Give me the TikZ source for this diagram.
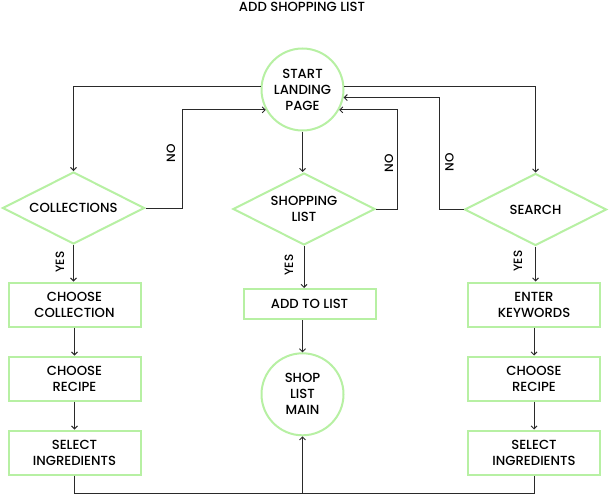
\documentclass[tikz,border=0pt]{standalone}
\usepackage{fontspec}
\setmainfont{Poppins}[UprightFont={* Medium}]
\usetikzlibrary{shapes.geometric,arrows.meta,calc}
\definecolor{lgreen}{HTML}{B7F0A3}
\definecolor{lineC}{HTML}{2A2A2A}
\begin{document}
\begin{tikzpicture}[x=1pt,y=-1pt,
  every node/.style={font=\fontsize{13.2}{16}\selectfont, align=center, inner sep=0pt, text=black},
  box/.style={draw=lgreen, line width=2pt, fill=white, minimum width=132pt, minimum height=44pt},
  smallbox/.style={box, minimum height=30pt},
  circ/.style={circle, draw=lgreen, line width=2pt, fill=white, minimum size=82pt},
  dia/.style={diamond, shape aspect=2, draw=lgreen, line width=2pt, fill=white, minimum width=142pt, minimum height=72pt},
  conn/.style={draw=lineC, line width=0.9pt},
  arr/.style={conn, -{Straight Barb[length=3pt,width=6pt]}},
  lbl/.style={rotate=90, font=\fontsize{12}{13}\selectfont}
]
\useasboundingbox (0,0) rectangle (609,495);

\node (title) at (302,7) {ADD SHOPPING LIST};

\node[circ] (start) at (302.5,89.5) {START\\LANDING\\PAGE};

\node[dia] (coll) at (73.5,208) {COLLECTIONS};
\node[dia] (shop) at (304,209) {SHOPPING\\LIST};
\node[dia] (search) at (535.5,209.5) {SEARCH};

\node[box] (lcc) at (74.5,304.5) {CHOOSE\\COLLECTION};
\node[box] (lcr) at (74.5,378.5) {CHOOSE\\RECIPE};
\node[box] (lsi) at (74.5,452.5) {SELECT\\INGREDIENTS};

\node[smallbox] (add) at (309.5,304) {ADD TO LIST};
\node[circ] (main) at (302.5,394.3) {SHOP\\LIST\\MAIN};

\node[box] (rek) at (534,304.5) {ENTER\\KEYWORDS};
\node[box] (rcr) at (534,378.5) {CHOOSE\\RECIPE};
\node[box] (rsi) at (534,452.5) {SELECT\\INGREDIENTS};

% from start to branches
\draw[arr] (start.176) -| (coll.north);
\draw[arr] (start.4) -| (search.north);
\draw[arr] (start.south) -- (start.south |- shop.north);

% NO loops
\coordinate (n1) at (182,208);
\draw[arr] (coll.east) -- (n1) |- (start.209);
\node[lbl] (no1) at (171,153) {NO};

\coordinate (n2) at (397,209);
\draw[arr] (shop.east) -- (n2) |- (start.331);
\node[lbl] (no2) at (389,163) {NO};

\coordinate (n3) at (439.5,209.5);
\draw[arr] (search.west) -- (n3) |- (start.349);
\node[lbl] (no3) at (449.5,162.5) {NO};

% YES arrows
\draw[arr] (coll.south) -- (coll.south |- lcc.north);
\node[lbl] (yes1) at (60,262) {YES};
\draw[arr] (shop.south) -- (shop.south |- add.north);
\node[lbl] (yes2) at (289,265) {YES};
\draw[arr] (search.south) -- (search.south |- rek.north);
\node[lbl] (yes3) at (518,261) {YES};

% column chains
\draw[arr] (lcc.south) -- (lcr.north);
\draw[arr] (lcr.south) -- (lsi.north);
\draw[arr] (rek.south) -- (rcr.north);
\draw[arr] (rcr.south) -- (rsi.north);
\draw[arr] (add.south -| main.north) -- (main.north);

% bottom join
\coordinate (bot) at (302.5,493.5);
\draw[conn] (lsi.south) |- (bot) -| (rsi.south);
\draw[arr] (bot) -- (main.south);
\end{tikzpicture}
\end{document}
